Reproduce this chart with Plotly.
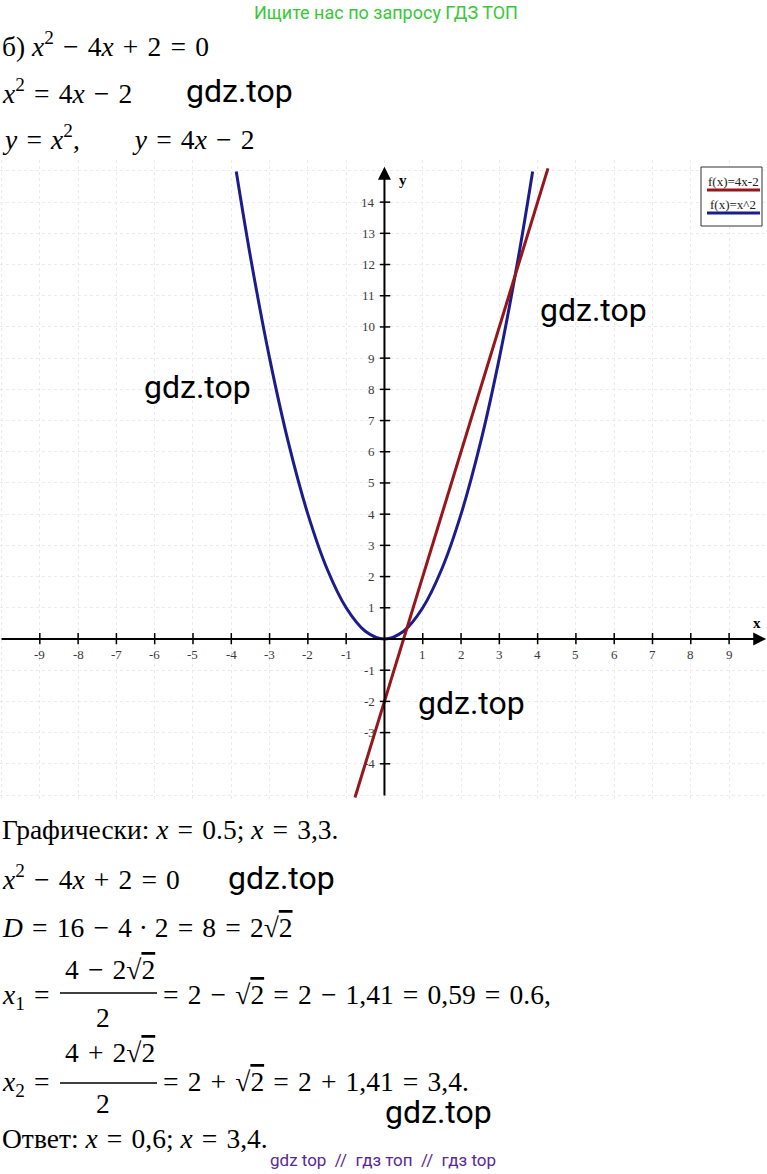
import plotly.graph_objects as go

# ---------------- data ----------------
parabola_x = [-3.87, -3.5, -3.0, -2.5, -2.0, -1.5, -1.0, -0.5, 0.0, 0.5, 1.0, 1.5, 2.0, 2.5, 3.0, 3.5, 3.87]
parabola_y = [14.98, 12.25, 9.0, 6.25, 4.0, 2.25, 1.0, 0.25, 0.0, 0.25, 1.0, 2.25, 4.0, 6.25, 9.0, 12.25, 14.98]
line_x = [-0.77, 4.27]
line_y = [-5.08, 15.08]

x_ticks = [-9, -8, -7, -6, -5, -4, -3, -2, -1, 1, 2, 3, 4, 5, 6, 7, 8, 9]
x_tick_labels = ["-9", "-8", "-7", "-6", "-5", "-4", "-3", "-2", "-1", "1", "2", "3", "4", "5", "6", "7", "8", "9"]
y_ticks = [-4, -3, -2, -1, 1, 2, 3, 4, 5, 6, 7, 8, 9, 10, 11, 12, 13, 14]
y_tick_labels = ["-4", "-3", "-2", "-1", "1", "2", "3", "4", "5", "6", "7", "8", "9", "10", "11", "12", "13", "14"]

legend_labels = ["f(x)=4x-2", "f(x)=x^2"]

W, H = 767, 1174
X_RANGE = [-10.04, 9.99]
Y_RANGE = [-5.16, 15.35]
SERIF = "Liberation Serif"
SANS = "Roboto"
RED = "rgb(150,22,26)"
BLUE = "rgb(28,28,140)"
FS = 27.5


def px(v):
    return v / W


def py(v):
    return 1 - v / H


fig = go.Figure()

fig.add_trace(go.Scatter(x=parabola_x, y=parabola_y, mode="lines", line=dict(color=BLUE, width=3, shape="spline"),
                         hoverinfo="skip", showlegend=False))
fig.add_trace(go.Scatter(x=line_x, y=line_y, mode="lines", line=dict(color=RED, width=3),
                         hoverinfo="skip", showlegend=False))

shapes = []
annotations = []

# axes with arrows
annotations.append(dict(x=X_RANGE[1] - 0.02, y=0, ax=X_RANGE[0], ay=0, xref="x", yref="y", axref="x", ayref="y",
                        text="", showarrow=True, arrowhead=2, arrowsize=1.3, arrowwidth=2, arrowcolor="black"))
annotations.append(dict(x=0, y=15.13, ax=0, ay=-5.06, xref="x", yref="y", axref="x", ayref="y",
                        text="", showarrow=True, arrowhead=2, arrowsize=1.3, arrowwidth=2, arrowcolor="black"))

# ticks + labels
for t, lab in zip(x_ticks, x_tick_labels):
    shapes.append(dict(type="line", xref="x", yref="y", x0=t, x1=t, y0=-0.17, y1=0.19,
                       line=dict(color="black", width=1.5)))
    annotations.append(dict(x=t, y=-0.5, xref="x", yref="y", text=lab, showarrow=False,
                            xanchor="center", yanchor="middle", font=dict(family=SERIF, size=13, color="#3a3a3a")))
for t, lab in zip(y_ticks, y_tick_labels):
    shapes.append(dict(type="line", xref="x", yref="y", x0=-0.12, x1=0.15, y0=t, y1=t,
                       line=dict(color="black", width=1.5)))
    annotations.append(dict(x=-0.2, y=t, xref="x", yref="y", text=lab, showarrow=False,
                            xanchor="right", yanchor="middle", font=dict(family=SERIF, size=13, color="#3a3a3a")))

annotations.append(dict(x=9.72, y=0.5, xref="x", yref="y", text="<b>x</b>", showarrow=False,
                        font=dict(family=SERIF, size=15, color="black")))
annotations.append(dict(x=0.48, y=14.72, xref="x", yref="y", text="<b>y</b>", showarrow=False,
                        font=dict(family=SERIF, size=15, color="black")))

# legend box
shapes.append(dict(type="rect", xref="paper", yref="paper", x0=px(701), x1=px(762), y0=py(226), y1=py(167),
                   line=dict(color="#333", width=1), fillcolor="white"))
for i, (lab, col) in enumerate(zip(legend_labels, [RED, BLUE])):
    ty = 181 + 23 * i
    annotations.append(dict(x=px(733), y=py(ty), xref="paper", yref="paper", text=lab, showarrow=False,
                            xanchor="center", yanchor="middle", font=dict(family=SERIF, size=13, color="#222")))
    shapes.append(dict(type="line", xref="paper", yref="paper", x0=px(707), x1=px(760), y0=py(ty + 9), y1=py(ty + 9),
                       line=dict(color=col, width=3)))


def text(xp, yp, s, size=FS, family=SERIF, color="black", anchor="left"):
    annotations.append(dict(x=px(xp), y=py(yp), xref="paper", yref="paper", text=s, showarrow=False,
                            xanchor=anchor, yanchor="middle", font=dict(family=family, size=size, color=color)))


def wm(xp, yp):
    text(xp, yp, "gdz.top", size=32, family=SANS)


X = "<i>x</i>"
S2 = "√<span style=\"text-decoration:overline\">2</span>"
SP = "\u2004"
EQ = SP + "=" + SP
MI = SP + "−" + SP
PL = SP + "+" + SP

text(386, 12, "Ищите нас по запросу ГДЗ ТОП", size=18, family=SANS, color="rgb(55,200,55)", anchor="center")
text(0, 45, "б) " + X + "<sup>2</sup>" + MI + "4" + X + PL + "2" + EQ + "0")
text(0, 91, X + "<sup>2</sup>" + EQ + "4" + X + MI + "2")
wm(184, 91)
text(0, 138, "<i>y</i>" + EQ + X + "<sup>2</sup>,        <i>y</i>" + EQ + "4" + X + MI + "2")

wm(538, 310)
wm(142, 387)
wm(416, 703)

text(0, 829, "Графически: " + X + EQ + "0.5; " + X + EQ + "3,3.")
text(0, 877, X + "<sup>2</sup>" + MI + "4" + X + PL + "2" + EQ + "0")
wm(226, 878)
text(0, 928, "<i>D</i>" + EQ + "16" + MI + "4 · 2" + EQ + "8" + EQ + "2" + S2)

# x1
text(0, 996, X + "<sub>1</sub>" + EQ)
text(110, 969, "4" + MI + "2" + S2, anchor="center")
shapes.append(dict(type="line", xref="paper", yref="paper", x0=px(60), x1=px(157), y0=py(993), y1=py(993),
                   line=dict(color="black", width=1.5)))
text(103, 1017, "2", anchor="center")
text(161, 994, "=" + SP + "2" + MI + S2 + EQ + "2" + MI + "1,41" + EQ + "0,59" + EQ + "0.6,")

# x2
text(0, 1083, X + "<sub>2</sub>" + EQ)
text(110, 1052, "4" + PL + "2" + S2, anchor="center")
shapes.append(dict(type="line", xref="paper", yref="paper", x0=px(60), x1=px(157), y0=py(1083), y1=py(1083),
                   line=dict(color="black", width=1.5)))
text(103, 1103, "2", anchor="center")
text(161, 1081, "=" + SP + "2" + PL + S2 + EQ + "2" + PL + "1,41" + EQ + "3,4.")
wm(383, 1112)

text(0, 1138, "Ответ: " + X + EQ + "0,6; " + X + EQ + "3,4.")
text(383, 1160, "gdz top  //  гдз топ  //  гдз top", size=17, family=SANS, color="rgb(90,40,150)", anchor="center")

fig.update_layout(
    width=W, height=H, margin=dict(l=0, r=0, t=0, b=0),
    paper_bgcolor="white", plot_bgcolor="white", showlegend=False,
    shapes=shapes, annotations=annotations,
    xaxis=dict(range=X_RANGE, domain=[0, 1], dtick=1, tick0=0, showgrid=True, gridcolor="#ebebeb", griddash="dot",
               gridwidth=1, zeroline=False, showticklabels=False, showline=False, fixedrange=True),
    yaxis=dict(range=Y_RANGE, domain=[py(800), py(160)], dtick=1, tick0=0, showgrid=True, gridcolor="#ebebeb",
               griddash="dot", gridwidth=1, zeroline=False, showticklabels=False, showline=False, fixedrange=True),
)

fig.write_html("out.html", config={"displayModeBar": False}, post_script="document.body.style.margin='0';")
